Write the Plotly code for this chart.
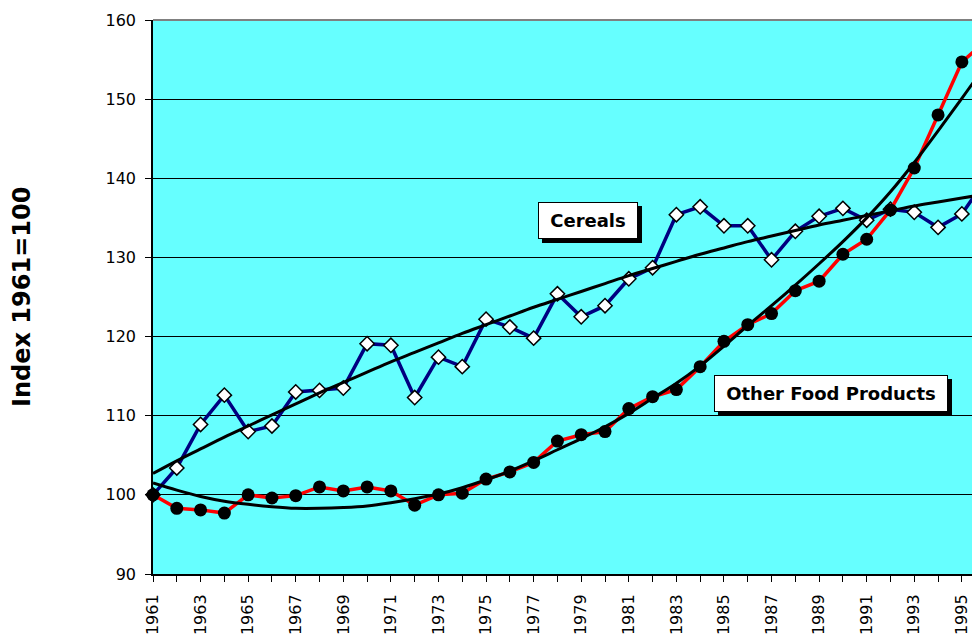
import plotly.graph_objects as go

years = list(range(1961, 1997))

cereals = [100.0, 103.4, 108.9, 112.6, 108.0, 108.7, 113.0, 113.2, 113.5, 119.1,
           118.9, 112.3, 117.4, 116.2, 122.2, 121.2, 119.8, 125.4, 122.5, 123.9,
           127.3, 128.7, 135.4, 136.4, 134.0, 134.0, 129.7, 133.3, 135.2, 136.2,
           134.7, 136.1, 135.7, 133.8, 135.5, 139.8]

other_food = [100.0, 98.3, 98.1, 97.7, 100.0, 99.6, 99.9, 101.0, 100.5, 101.0,
              100.5, 98.7, 100.0, 100.2, 102.0, 102.9, 104.1, 106.8, 107.6, 108.0,
              110.9, 112.4, 113.3, 116.2, 119.4, 121.5, 122.9, 125.8, 127.0, 130.4,
              132.3, 136.0, 141.3, 148.0, 154.7, 157.3]

cereals_trend = [102.7, 104.3, 105.8, 107.3, 108.7, 110.1, 111.5, 112.9, 114.2, 115.5,
                 116.8, 118.0, 119.2, 120.4, 121.5, 122.6, 123.7, 124.7, 125.7, 126.7,
                 127.7, 128.6, 129.5, 130.4, 131.2, 132.0, 132.7, 133.4, 134.1, 134.7,
                 135.3, 135.9, 136.5, 137.0, 137.5, 138.0]

other_trend = [101.5, 100.6, 99.8, 99.2, 98.8, 98.5, 98.3, 98.3, 98.4, 98.6,
               99.0, 99.5, 100.1, 100.9, 101.9, 103.0, 104.3, 105.7, 107.1, 108.6,
               110.3, 112.2, 114.1, 116.3, 118.8, 121.4, 123.9, 126.5, 129.2, 132.0,
               135.0, 138.3, 142.0, 146.0, 150.1, 154.3]

tick_years = list(range(1961, 1996, 2))
tick_text = [str(y) for y in tick_years]
y_ticks = [90, 100, 110, 120, 130, 140, 150, 160]

FONT = "DejaVu Sans"

fig = go.Figure()

fig.add_trace(go.Scatter(
    x=years, y=cereals, mode="lines+markers", name="Cereals",
    line=dict(color="#000080", width=3.5),
    marker=dict(symbol="diamond", size=11, color="white",
                line=dict(color="black", width=1.5)),
    cliponaxis=False, showlegend=False))

fig.add_trace(go.Scatter(
    x=years, y=other_food, mode="lines+markers", name="Other Food Products",
    line=dict(color="#FF0000", width=3.5),
    marker=dict(symbol="circle", size=13, color="black",
                line=dict(color="black", width=0)),
    cliponaxis=False, showlegend=False))

fig.add_trace(go.Scatter(
    x=years, y=cereals_trend, mode="lines", name="Cereals trend",
    line=dict(color="black", width=3, shape="spline", smoothing=1.0),
    cliponaxis=False, showlegend=False))

fig.add_trace(go.Scatter(
    x=years, y=other_trend, mode="lines", name="Other food trend",
    line=dict(color="black", width=3, shape="spline", smoothing=1.0),
    cliponaxis=False, showlegend=False))

px_per_year = 23.79
x_end = 1961 + 819 / px_per_year

fig.update_layout(
    width=972, height=636,
    margin=dict(l=153, r=0, t=20, b=62),
    paper_bgcolor="white",
    plot_bgcolor="#66FFFF",
    font=dict(family=FONT, size=16, color="black"),
    xaxis=dict(
        range=[1961, x_end],
        tickmode="array", tickvals=tick_years, ticktext=tick_text,
        tickangle=-90, ticks="outside", ticklen=6, tickcolor="black",
        tickfont=dict(family=FONT, size=16, color="black"),
        minor=dict(tickmode="linear", tick0=1961, dtick=1, ticks="outside",
                   ticklen=6, tickcolor="black", showgrid=False),
        showgrid=False, zeroline=False,
        showline=True, linecolor="black", linewidth=2,
        ticklabelstandoff=6,
    ),
    yaxis=dict(
        range=[90, 160],
        tickmode="array", tickvals=y_ticks,
        ticks="outside", ticklen=6, tickcolor="black",
        tickfont=dict(family=FONT, size=16, color="black"),
        showgrid=True, gridcolor="#000000", gridwidth=1,
        zeroline=False,
        showline=True, linecolor="black", linewidth=1.5,
        ticklabelstandoff=6,
    ),
    shapes=[dict(type="line", xref="paper", yref="paper", x0=0, x1=1, y0=1, y1=1,
                 line=dict(color="#808080", width=2))],
)

annotations = []
for text, xa, ya, w in [("Cereals", 1979.28, 134.67, 98),
                        ("Other Food Products", 1989.5, 112.81, 232)]:
    # drop shadow box
    annotations.append(dict(
        x=xa, y=ya, xref="x", yref="y", text="&nbsp;", showarrow=False,
        font=dict(family=FONT, size=18, color="black"),
        bgcolor="black", bordercolor="black", borderwidth=1, borderpad=0,
        width=w, height=35, xshift=4, yshift=-4))
    annotations.append(dict(
        x=xa, y=ya, xref="x", yref="y", text="<b>" + text + "</b>", showarrow=False,
        font=dict(family=FONT, size=18, color="black"),
        bgcolor="white", bordercolor="black", borderwidth=1, borderpad=0,
        width=w, height=35))

annotations.append(dict(
    x=-0.16, y=0.5, xref="paper", yref="paper", text="<b>Index 1961=100</b>",
    showarrow=False, textangle=-90,
    font=dict(family=FONT, size=24, color="black"),
    xanchor="center", yanchor="middle"))

fig.update_layout(annotations=annotations)

fig.write_html(
    "out.html",
    config={"displayModeBar": False},
    post_script="document.body.style.margin='0';document.body.style.padding='0';"
                "document.body.style.overflow='hidden';"
                "document.documentElement.style.overflow='hidden';",
)
